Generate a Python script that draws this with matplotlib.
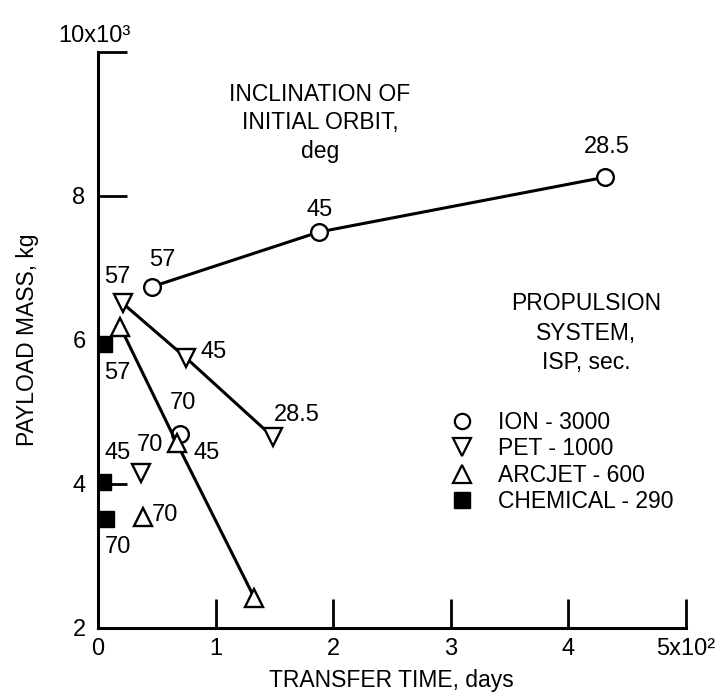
import matplotlib
matplotlib.use("Agg")
import matplotlib.pyplot as plt
from matplotlib.lines import Line2D

plt.rcParams['font.family'] = ['Liberation Sans', 'DejaVu Sans']

# transfer time (x10^2 days) and payload mass (x10^3 kg)
ion_x = [0.46, 1.88, 4.31, 0.70]
ion_y = [6.74, 7.50, 8.26, 4.70]
ion_lbl = ["57", "45", "28.5", "70"]

pet_x = [0.21, 0.75, 1.49, 0.37]
pet_y = [6.51, 5.75, 4.65, 4.15]
pet_lbl = ["57", "45", "28.5", "70"]

arc_x = [0.19, 0.67, 1.33, 0.38]
arc_y = [6.18, 4.57, 2.42, 3.54]
arc_lbl = ["", "45", "", "70"]

chem_x = [0.05, 0.04, 0.07]
chem_y = [5.94, 4.03, 3.51]
chem_lbl = ["57", "45", "70"]

legend_names = ["ION - 3000", "PET - 1000", "ARCJET - 600", "CHEMICAL - 290"]

fig = plt.figure(figsize=(7.18, 7.00), dpi=100)
ax = fig.add_axes([0.1365, 0.1029, 0.8185, 0.8228])

lw = 2.2
mk = dict(mfc="white", mec="black", mew=1.7, color="black")

# connected part of each series (first three points), then the lone 70 deg point
ax.plot(ion_x[:3], ion_y[:3], marker="o", ms=12, lw=lw, **mk, zorder=3)
ax.plot(ion_x[3:], ion_y[3:], marker="o", ms=12, ls="none", **mk, zorder=3)
ax.plot(pet_x[:3], pet_y[:3], marker="v", ms=13, lw=lw, **mk, zorder=3)
ax.plot(pet_x[3:], pet_y[3:], marker="v", ms=13, ls="none", **mk, zorder=3)
ax.plot(arc_x[:3], arc_y[:3], marker="^", ms=13, lw=lw, **mk, zorder=3)
ax.plot(arc_x[3:], arc_y[3:], marker="^", ms=13, ls="none", **mk, zorder=3)
ax.plot(chem_x, chem_y, marker="s", ms=12, ls="none", color="black", zorder=4)

# inclination labels, offsets in pixels from each point
ion_off = [(10, 27), (1, 22), (2, 30), (3, 31)]
pet_off = [(-5, 26), (27, 6), (24, 22), (8, 28)]
arc_off = [(0, 0), (30, -10), (0, 0), (22, 2)]
chem_off = [(13, -29), (15, 29), (12, -28)]
for xs, ys, lbls, offs in [(ion_x, ion_y, ion_lbl, ion_off), (pet_x, pet_y, pet_lbl, pet_off),
                            (arc_x, arc_y, arc_lbl, arc_off), (chem_x, chem_y, chem_lbl, chem_off)]:
    for x, y, t, o in zip(xs, ys, lbls, offs):
        if t:
            ax.annotate(t, xy=(x, y), xytext=o, textcoords="offset pixels",
                        ha="center", va="center", fontsize=17)

ax.set_xlim(0, 5)
ax.set_ylim(2, 10)
ax.set_xticks([0, 1, 2, 3, 4, 5])
ax.set_xticklabels(["0", "1", "2", "3", "4", "5x10²"])
ax.set_yticks([2, 4, 6, 8, 10])
ax.set_yticklabels(["2", "4", "6", "8", ""])
ax.tick_params(direction="in", length=21, width=2, labelsize=17)
ax.tick_params(axis="y", pad=9)
ax.tick_params(axis="x", pad=7)
ax.yaxis.get_major_ticks()[2].tick1line.set_visible(False)
ax.annotate("10x10³", xy=(0, 10), xytext=(-4, 10), textcoords="offset pixels",
            ha="center", va="baseline", fontsize=17, annotation_clip=False)

for s in ["top", "right"]:
    ax.spines[s].set_visible(False)
for s in ["left", "bottom"]:
    ax.spines[s].set_linewidth(2.2)

ax.set_xlabel("TRANSFER TIME, days", fontsize=16.5)
ax.set_ylabel("PAYLOAD MASS, kg", fontsize=16.5)
ax.xaxis.set_label_coords(0.5, -0.072)
ax.yaxis.set_label_coords(-0.1, 0.5)

fig.text(320 / 718, 1 - 123 / 700, "INCLINATION OF\nINITIAL ORBIT,\ndeg",
         ha="center", va="center", multialignment="center", fontsize=16.5, linespacing=1.3)
fig.text(586 / 718, 1 - 333 / 700, "PROPULSION\nSYSTEM,\nISP, sec.",
         ha="center", va="center", multialignment="center", fontsize=16.5, linespacing=1.35)

handles = [
    Line2D([], [], marker="o", ls="none", ms=11, mfc="white", mec="black", mew=1.6),
    Line2D([], [], marker="v", ls="none", ms=13, mfc="white", mec="black", mew=1.6),
    Line2D([], [], marker="^", ls="none", ms=13, mfc="white", mec="black", mew=1.6),
    Line2D([], [], marker="s", ls="none", ms=11, color="black"),
]
fig.legend(handles, legend_names, loc="upper left", bbox_to_anchor=(450.5 / 718, 1 - 411 / 700),
           frameon=False, fontsize=16.5, handlelength=1.0, handletextpad=1.07,
           labelspacing=0.15, borderpad=0, borderaxespad=0)

fig.savefig("out.png", dpi=100)
